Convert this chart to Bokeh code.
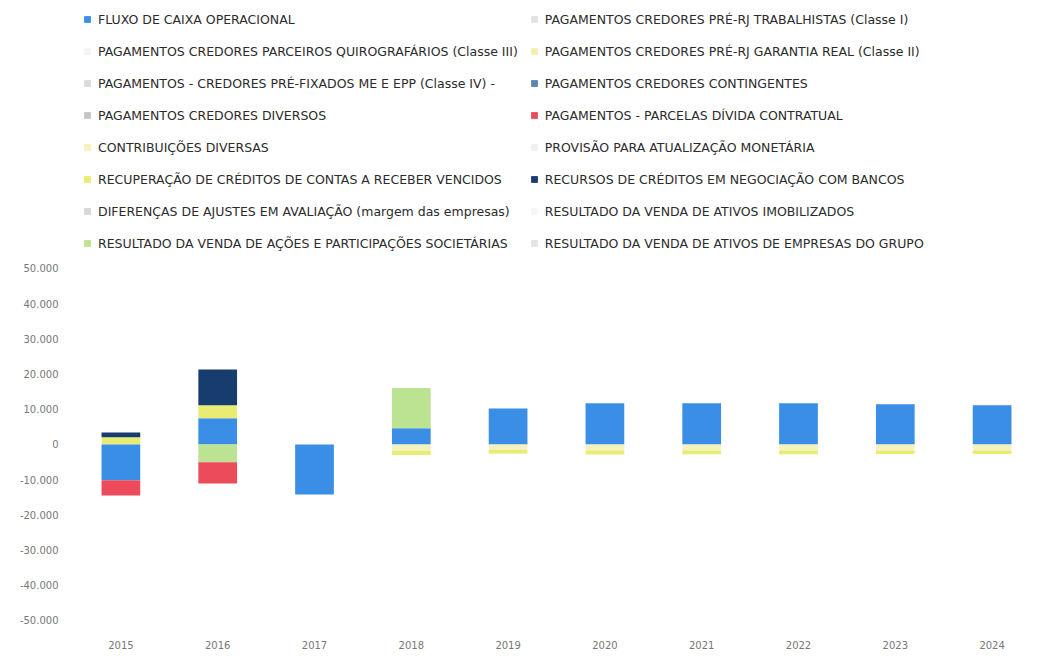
from bokeh.plotting import figure
from bokeh.models import (ColumnDataSource, FactorRange, Range1d, FixedTicker,
                          Legend, LegendItem)
from bokeh.embed import file_html
from bokeh.resources import INLINE

# Categories
years = ["2015", "2016", "2017", "2018", "2019", "2020", "2021", "2022", "2023", "2024"]

# Series labels (legend order: first column top to bottom, then second column)
series_names = [
    "FLUXO DE CAIXA OPERACIONAL",
    "PAGAMENTOS CREDORES PARCEIROS QUIROGRAFÁRIOS (Classe III)",
    "PAGAMENTOS - CREDORES PRÉ-FIXADOS ME E EPP (Classe IV) -",
    "PAGAMENTOS CREDORES DIVERSOS",
    "CONTRIBUIÇÕES DIVERSAS",
    "RECUPERAÇÃO DE CRÉDITOS DE CONTAS A RECEBER VENCIDOS",
    "DIFERENÇAS DE AJUSTES EM AVALIAÇÃO (margem das empresas)",
    "RESULTADO DA VENDA DE AÇÕES E PARTICIPAÇÕES SOCIETÁRIAS",
    "PAGAMENTOS CREDORES PRÉ-RJ TRABALHISTAS (Classe I)",
    "PAGAMENTOS CREDORES PRÉ-RJ GARANTIA REAL (Classe II)",
    "PAGAMENTOS CREDORES CONTINGENTES",
    "PAGAMENTOS - PARCELAS DÍVIDA CONTRATUAL",
    "PROVISÃO PARA ATUALIZAÇÃO MONETÁRIA",
    "RECURSOS DE CRÉDITOS EM NEGOCIAÇÃO COM BANCOS",
    "RESULTADO DA VENDA DE ATIVOS IMOBILIZADOS",
    "RESULTADO DA VENDA DE ATIVOS DE EMPRESAS DO GRUPO",
]

series_colors = [
    "#3A8EE6", "#F4F4F4", "#DADADA", "#C4C4C4",
    "#F6F2BE", "#E9EC72", "#D6D6D6", "#BCE391",
    "#E2E2E2", "#F4EFB0", "#5B86AD", "#EC4B5B",
    "#EFEFEF", "#173C6E", "#F7F7F7", "#E4E4E4",
]

# Values per series, one per year
fluxo_operacional = [-10200, 7400, -14200, 4600, 10200, 11700, 11700, 11700, 11400, 11100]
quirografarios = [0] * 10
me_epp = [0] * 10
diversos = [0] * 10
contribuicoes = [0, 0, 0, -1800, -1600, -1700, -1700, -1700, -1700, -1700]
recuperacao = [2000, 3700, 0, -1200, -1000, -1200, -1100, -1100, -1000, -1000]
diferencas = [0] * 10
venda_acoes = [0, -5100, 0, 11400, 0, 0, 0, 0, 0, 0]
trabalhistas = [0] * 10
garantia_real = [0] * 10
contingentes = [0] * 10
parcelas = [-4300, -6000, 0, 0, 0, 0, 0, 0, 0, 0]
provisao = [0] * 10
negociacao = [1400, 10200, 0, 0, 0, 0, 0, 0, 0, 0]
venda_imobilizados = [0] * 10
venda_grupo = [0] * 10

series_values = [
    fluxo_operacional, quirografarios, me_epp, diversos, contribuicoes, recuperacao,
    diferencas, venda_acoes, trabalhistas, garantia_real, contingentes,
    parcelas, provisao, negociacao, venda_imobilizados, venda_grupo,
]

# Tick values for the y axis
y_ticks = [-50000, -40000, -30000, -20000, -10000, 0, 10000, 20000, 30000, 40000, 50000]


def fmt(v):
    s = f"{abs(v):,}".replace(",", ".")
    return ("-" if v < 0 else "") + s


keys = [f"s{i}" for i in range(len(series_names))]
pos = {"year": years}
neg = {"year": years}
for k, vals in zip(keys, series_values):
    pos[k] = [max(v, 0) for v in vals]
    neg[k] = [min(v, 0) for v in vals]

HEIGHT = 656
BOTTOM = 22
frame_h = HEIGHT - BOTTOM
FONT = "DejaVu Sans"

# The plot area spans the full height; the upper part of the value range is
# left empty so the legend can sit there above the bars.
p = figure(
    width=1044, height=HEIGHT,
    x_range=FactorRange(*years),
    y_range=Range1d(-54000, 126100),
    output_backend="svg", toolbar_location=None,
    min_border_left=72, min_border_right=4,
    min_border_top=0, min_border_bottom=BOTTOM,
    background_fill_color="white", border_fill_color="white",
    outline_line_color=None,
)

r_pos = p.vbar_stack(keys, x="year", width=0.4, color=series_colors,
                     source=ColumnDataSource(pos), line_width=0)
r_neg = p.vbar_stack(keys, x="year", width=0.4, color=series_colors,
                     source=ColumnDataSource(neg), line_width=0)

items = [LegendItem(label=name, renderers=[rp, rn])
         for name, rp, rn in zip(series_names, r_pos, r_neg)]

n_rows = 8
legend_h = 2 * 6 + n_rows * 20 + (n_rows - 1) * 12
legend = Legend(
    items=items, ncols=2, location=(11, frame_h - legend_h + 3),
    label_text_font=FONT, label_text_font_size="12.5px",
    label_text_color="#2b2b2b",
    glyph_width=8, glyph_height=8, label_height=20, label_standoff=7,
    spacing=12, padding=6, margin=0,
    border_line_color=None, background_fill_alpha=0,
)
p.add_layout(legend, "center")

p.xgrid.grid_line_color = None
p.ygrid.grid_line_color = None

p.yaxis.ticker = FixedTicker(ticks=y_ticks)
p.yaxis.major_label_overrides = {t: fmt(t) for t in y_ticks}
for ax in (p.xaxis[0], p.yaxis[0]):
    ax.axis_line_color = None
    ax.major_tick_line_color = None
    ax.minor_tick_line_color = None
    ax.major_label_text_font = FONT
    ax.major_label_text_font_size = "10px"
    ax.major_label_text_color = "#777777"
p.xaxis.major_label_standoff = 0
p.yaxis.major_label_standoff = 8

open("out.html", "w").write(file_html(p, INLINE))
